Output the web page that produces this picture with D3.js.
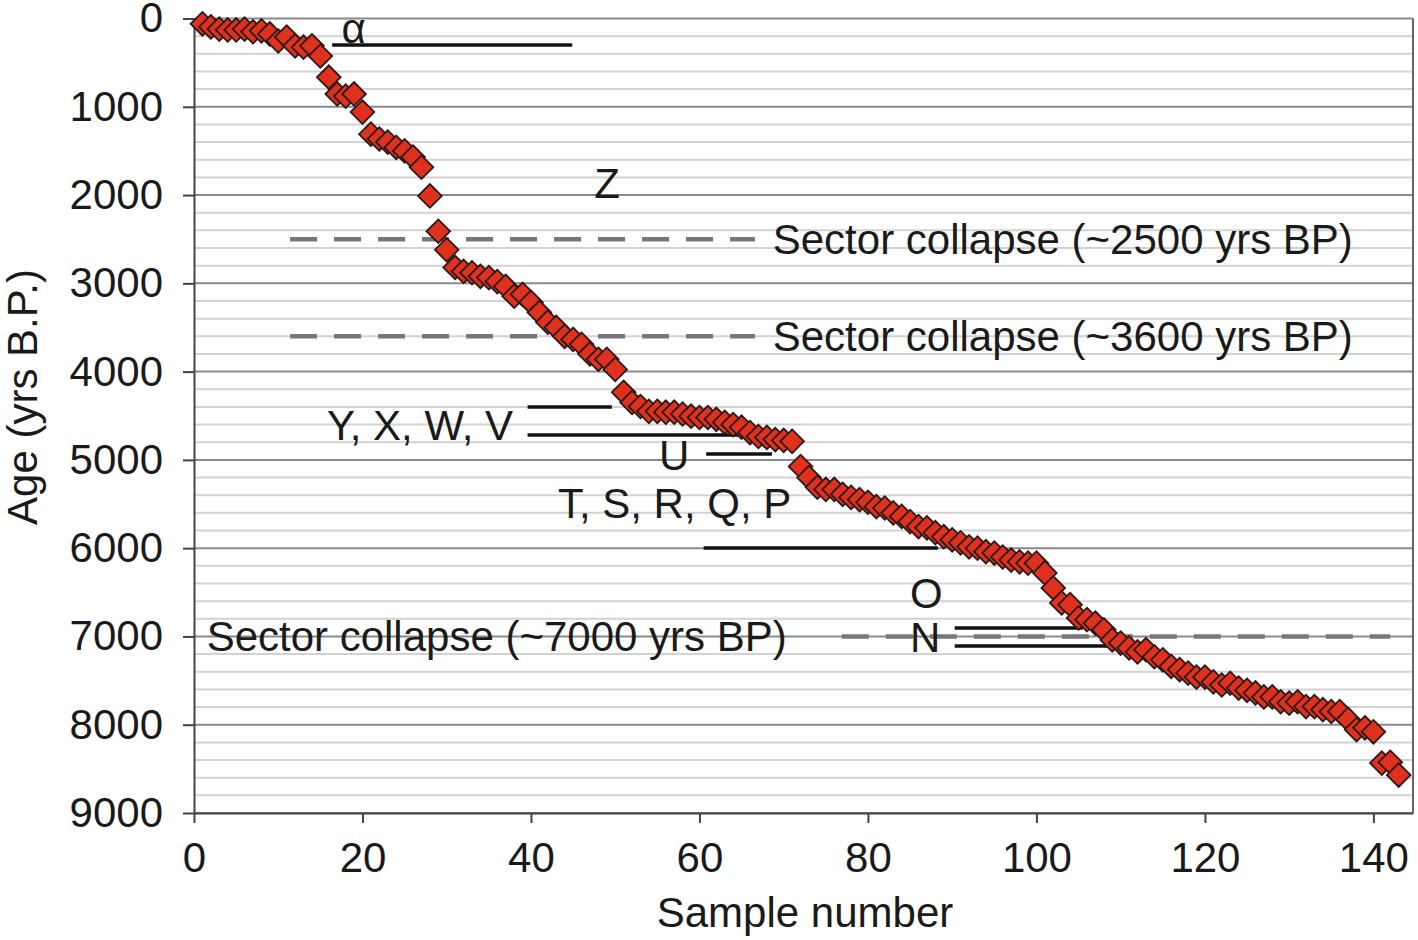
<!DOCTYPE html>
<html>
<head>
<meta charset="utf-8">
<script src="https://cdn.jsdelivr.net/npm/d3@7"></script>
<style>
  body { margin: 0; background: #fff; }
  text { font-family: "Liberation Sans", Arial, sans-serif; fill: #1a1a1a; }
</style>
</head>
<body>
<div id="chart"></div>
<script>
// sample ages (yrs B.P.), sample number = index + 1
const ages = [
  60, 95, 120, 130, 130, 120, 150, 140, 175, 255,
  210, 310, 325, 310, 425, 665, 855, 880, 855, 1060,
  1310, 1365, 1400, 1460, 1500, 1570, 1685, 2010, 2410, 2620,
  2820, 2865, 2880, 2920, 2935, 2980, 3035, 3145, 3125, 3215,
  3330, 3440, 3500, 3600, 3635, 3690, 3800, 3860, 3860, 3975,
  4235, 4350, 4395, 4450, 4450, 4460, 4460, 4480, 4505, 4520,
  4520, 4540, 4575, 4600, 4630, 4690, 4735, 4745, 4770, 4780,
  4790, 5075, 5200, 5310, 5335, 5335, 5390, 5425, 5450, 5480,
  5530, 5545, 5600, 5640, 5700, 5755, 5770, 5825, 5870, 5905,
  5940, 5985, 6000, 6040, 6055, 6100, 6135, 6155, 6170, 6170,
  6280, 6450, 6620, 6640, 6790, 6810, 6850, 6925, 7040, 7075,
  7130, 7175, 7150, 7230, 7265, 7340, 7375, 7415, 7460, 7460,
  7515, 7550, 7530, 7585, 7610, 7640, 7685, 7685, 7740, 7755,
  7740, 7795, 7795, 7830, 7850, 7850, 7940, 8055, 8035, 8080,
  8435, 8425, 8570
];
const sampleNumbers = ages.map((_, i) => i + 1);

const xTicks = [0, 20, 40, 60, 80, 100, 120, 140];
const yTicks = [0, 1000, 2000, 3000, 4000, 5000, 6000, 7000, 8000, 9000];

// sector collapse events: [age, from sample, to sample]
const collapses = [
  [2500, 11.4, 66.6],
  [3600, 11.4, 66.6],
  [7000, 76.9, 142.0]
];
// collapse labels: [text, sample (start), baseline age]
const collapseLabels = [
  ["Sector collapse (~2500 yrs BP)", 68.7, 2668],
  ["Sector collapse (~3600 yrs BP)", 68.7, 3766],
  ["Sector collapse (~7000 yrs BP)", 1.5, 7165]
];
// unit bars: [from sample, to sample, age]
const unitBars = [
  [16.4, 44.9, 300],
  [39.6, 49.6, 4400],
  [39.6, 65.8, 4718],
  [60.8, 68.6, 4933],
  [60.5, 88.3, 5998],
  [90.3, 105.5, 6904],
  [90.3, 108.5, 7108]
];
// unit labels: [text, sample (start), baseline age]
const unitLabels = [
  ["\u03b1", 17.5, 278],
  ["Z", 47.5, 2033],
  ["Y, X, W, V", 15.8, 4774],
  ["U", 55.2, 5114],
  ["T, S, R, Q, P", 43.2, 5658],
  ["O", 85.0, 6677],
  ["N", 85.0, 7176]
];

const W = 1418, H = 940;
const margin = { top: 18.5, right: 5, bottom: 127, left: 194 };
const width = W - margin.left - margin.right,
  height = H - margin.top - margin.bottom;

const x = d3.scaleLinear().domain([0, 144.7]).range([0, width]);
const y = d3.scaleLinear().domain([0, 9000]).range([0, height]);

const svg = d3
  .select("#chart")
  .append("svg")
  .attr("width", W)
  .attr("height", H)
  .append("g")
  .attr("transform", "translate(" + margin.left + "," + margin.top + ")");

// minor gridlines every 200 yrs
svg
  .append("g")
  .selectAll("line")
  .data(d3.range(0, 9001, 200).filter((d) => d % 1000 !== 0))
  .enter()
  .append("line")
  .attr("x1", 0)
  .attr("x2", width)
  .attr("y1", (d) => y(d))
  .attr("y2", (d) => y(d))
  .attr("stroke", "#d2d2d2")
  .attr("stroke-width", 2);

// major gridlines
svg
  .append("g")
  .selectAll("line")
  .data(yTicks)
  .enter()
  .append("line")
  .attr("x1", 0)
  .attr("x2", width)
  .attr("y1", (d) => y(d))
  .attr("y2", (d) => y(d))
  .attr("stroke", "#8a8a8a")
  .attr("stroke-width", 2);

// right border
svg
  .append("line")
  .attr("x1", width)
  .attr("x2", width)
  .attr("y1", 0)
  .attr("y2", height)
  .attr("stroke", "#666")
  .attr("stroke-width", 2);

// sector collapse dashed lines
svg
  .append("g")
  .selectAll("line")
  .data(collapses)
  .enter()
  .append("line")
  .attr("x1", (d) => x(d[1]))
  .attr("x2", (d) => x(d[2]))
  .attr("y1", (d) => y(d[0]))
  .attr("y2", (d) => y(d[0]))
  .attr("stroke", "#777")
  .attr("stroke-width", 4.5)
  .attr("stroke-dasharray", "27,17");

svg
  .append("g")
  .selectAll("text")
  .data(collapseLabels)
  .enter()
  .append("text")
  .attr("x", (d) => x(d[1]))
  .attr("y", (d) => y(d[2]))
  .style("font-size", "42px")
  .text((d) => d[0]);

// unit bars and labels
svg
  .append("g")
  .selectAll("line")
  .data(unitBars)
  .enter()
  .append("line")
  .attr("x1", (d) => x(d[0]))
  .attr("x2", (d) => x(d[1]))
  .attr("y1", (d) => y(d[2]))
  .attr("y2", (d) => y(d[2]))
  .attr("stroke", "#111")
  .attr("stroke-width", 3.5);

svg
  .append("g")
  .selectAll("text")
  .data(unitLabels)
  .enter()
  .append("text")
  .attr("x", (d) => x(d[1]))
  .attr("y", (d) => y(d[2]))
  .style("font-size", "42px")
  .text((d) => d[0]);

// axes
const xAxis = svg
  .append("g")
  .attr("transform", "translate(0," + height + ")")
  .call(d3.axisBottom(x).tickValues(xTicks).tickSize(10).tickPadding(19).tickSizeOuter(0));
xAxis.select(".domain").attr("stroke", "#444").attr("stroke-width", 2);
xAxis.selectAll(".tick line").attr("stroke", "#444").attr("stroke-width", 2);
xAxis.selectAll(".tick text").style("font-size", "42px").attr("fill", "#1a1a1a");

const yAxis = svg
  .append("g")
  .call(
    d3.axisLeft(y).tickValues(yTicks).tickFormat(d3.format("d"))
      .tickSize(11).tickPadding(20).tickSizeOuter(0)
  );
yAxis.select(".domain").attr("stroke", "#444").attr("stroke-width", 2);
yAxis.selectAll(".tick line").attr("stroke", "#444").attr("stroke-width", 2);
yAxis.selectAll(".tick text").style("font-size", "42px").attr("fill", "#1a1a1a");

// data points
const diamond = d3.symbol().type(d3.symbolSquare).size(280);
svg
  .append("g")
  .selectAll("path")
  .data(ages)
  .enter()
  .append("path")
  .attr("d", diamond)
  .attr("transform", (d, i) => "translate(" + x(sampleNumbers[i]) + "," + y(d) + ") rotate(45)")
  .attr("fill", "#e0301e")
  .attr("stroke", "#2b1a18")
  .attr("stroke-width", 1.8);

// axis titles
svg
  .append("text")
  .attr("x", 805 - margin.left)
  .attr("y", height + 114)
  .style("text-anchor", "middle")
  .style("font-size", "42px")
  .text("Sample number");

svg
  .append("text")
  .attr("transform", "rotate(-90)")
  .attr("x", -(397 - margin.top))
  .attr("y", 37 - margin.left)
  .style("text-anchor", "middle")
  .style("font-size", "42px")
  .text("Age (yrs B.P.)");
</script>
</body>
</html>
